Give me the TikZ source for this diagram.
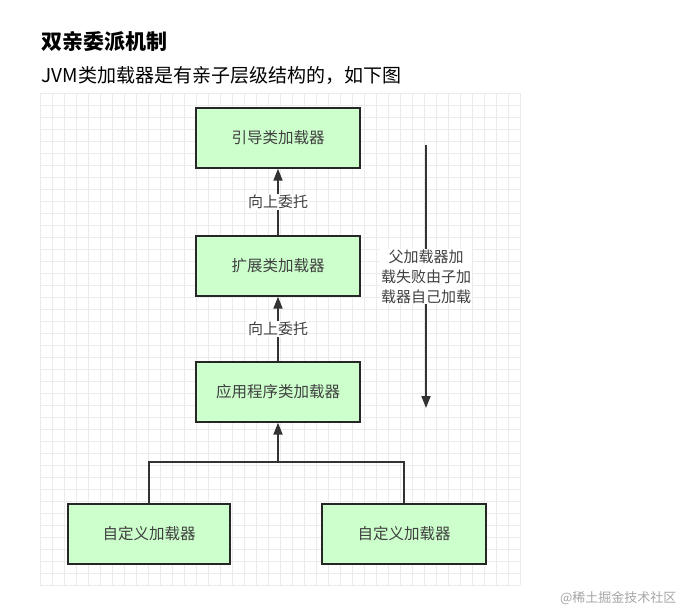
\documentclass[tikz,border=0pt]{standalone}
\usepackage{fontspec}
\newfontfamily\cjk{Noto Sans CJK SC}
\usetikzlibrary{arrows.meta}
\begin{document}
\begin{tikzpicture}[x=1pt,y=-1pt,
  box/.style={draw=black!85,line width=1.4pt,fill=green!20!white,minimum width=164pt,minimum height=60pt,font=\cjk\fontsize{15.5}{18}\selectfont,text=black!75},
  lbl/.style={fill=white,font=\cjk\fontsize{15}{20}\selectfont,text=black!75,inner sep=1pt,align=center},
  conn/.style={line width=1.8pt,draw=black!80},
  arr/.style={conn,-{Triangle[length=12pt,width=9pt]}}]
\useasboundingbox (0,0) rectangle (684,612);
\fill[white] (0,0) rectangle (684,612);
\foreach \x in {40,52,...,520} \draw[black!8,line width=0.6pt] (\x,93) -- (\x,585);
\foreach \y in {93,105,...,585} \draw[black!8,line width=0.6pt] (40,\y) -- (520,\y);
\node[anchor=base west,font=\cjk\bfseries\fontsize{21}{24}\selectfont] (t) at (38,50) {双亲委派机制};
\node[anchor=base west,font=\cjk\fontsize{19}{22}\selectfont] (s) at (38,83) {JVM类加载器是有亲子层级结构的，如下图};
\node[box] (b1) at (278,138) {引导类加载器};
\node[box] (b2) at (278,266) {扩展类加载器};
\node[box] (b3) at (278,392) {应用程序类加载器};
\node[box,minimum width=162pt] (b4) at (149,534) {自定义加载器};
\node[box] (b5) at (404,534) {自定义加载器};
\draw[arr] (b2.north) -- node[lbl]{向上委托} (b1.south);
\draw[arr] (b3.north) -- node[lbl]{向上委托} (b2.south);
\coordinate (j) at (278,462);
\draw[conn] (b4.north) |- (j) -| (b5.north);
\draw[arr] (j) -- (b3.south);
\coordinate (r1) at (426,145);
\coordinate (r2) at (426,408);
\draw[arr] (r1) -- node[lbl,pos=0.5]{父加载器加\\载失败由子加\\载器自己加载} (r2);
\node[anchor=east,font=\cjk\fontsize{13}{15}\selectfont,text=black!35] (w) at (680,598) {@稀土掘金技术社区};
\end{tikzpicture}
\end{document}
